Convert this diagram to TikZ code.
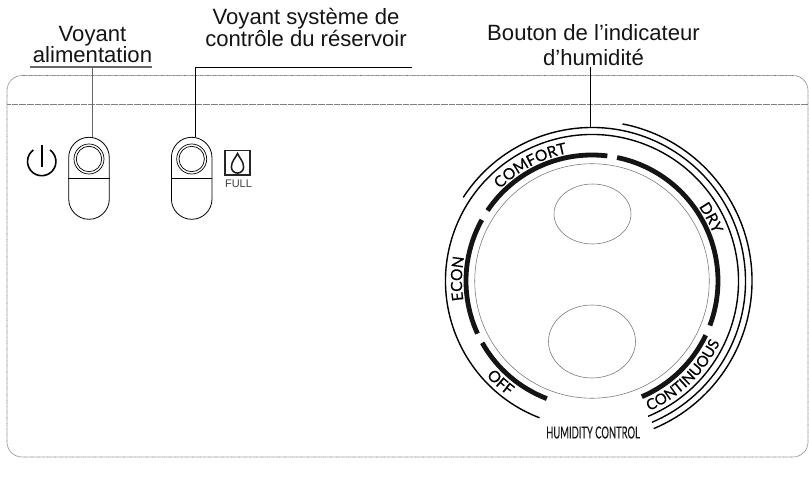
\documentclass[tikz,border=0pt]{standalone}
\usepackage{fontspec}
\setmainfont{Liberation Sans}
\newfontfamily\dialfont[FakeBold=0.35]{Lato}
\usetikzlibrary{decorations.text,shapes.geometric}
\newcommand{\dl}{\dialfont\fontsize{15.5}{15.5}\selectfont}
\newcommand{\dlc}{\dialfont\fontsize{15}{15}\selectfont}
\tikzset{
  x=1pt,y=1pt,
  callout/.style={font=\fontsize{22.1}{21.2}\selectfont,align=center,inner sep=0pt,text=black!92},
  panelline/.style={draw=black!50,line width=.65pt,dash pattern=on .7pt off .45pt},
  bandarc/.style={line width=4.8pt,black!92},
  ringarc/.style={line width=1.4pt,black},
  thingray/.style={draw=black!55,line width=.55pt},
  pillbtn/.style={draw,line width=.8pt,minimum width=40.6pt,minimum height=82pt,rounded corners=20.3pt,inner sep=0pt},
  lampouter/.style={circle,draw,line width=.7pt,minimum size=30pt,inner sep=0pt},
  lampinner/.style={circle,draw,line width=.7pt,minimum size=25.4pt,inner sep=0pt},
  arctext/.style={decorate,decoration={text along path,text align=center,text={#1}}},
}
\begin{document}
\begin{tikzpicture}
\useasboundingbox (0,0) rectangle (809,487);
% panel
\draw[panelline,rounded corners=15pt] (7,411.5) rectangle (808,30);
\coordinate (pl) at (7,383);
\coordinate (pr) at (808,383);
\draw[panelline] (pl) -- (pr);
% callouts
\node[callout] (lblA) at (92.5,442.5) {Voyant\\alimentation};
\node[callout] (lblB) at (306,459.5) {Voyant système de\\contrôle du réservoir};
\node[callout,font=\fontsize{22.1}{25}\selectfont] (lblC) at (593.5,441.7) {Bouton de l’indicateur\\d’humidité};
% buttons
\node[pillbtn] (btnA) at (89,308.7) {};
\node[pillbtn] (btnB) at (191.7,308.7) {};
\foreach \b/\c in {btnA/89,btnB/191.7}{
  \node[lampouter] (\b o) at (\c,328) {};
  \node[lampinner] (\b i) at (\c,328) {};
  \draw[line width=.6pt] (\b.west) -- (\b.east);
}
% leaders
\coordinate (ulL) at (30,420.4);
\coordinate (ulR) at (152,420.4);
\coordinate (ulM) at (92.5,420.4);
\draw[line width=2pt,black!60] (ulL) -- (ulR);
\draw[line width=1.4pt,black!60] (ulM) -- (btnA.north -| ulM);
\coordinate (lbR) at (411.7,419.5);
\coordinate (lbL) at (195.4,419.5);
\draw[line width=.8pt] (lbR) -- (lbL) -- (btnB.north -| lbL);
% power icon
\coordinate (pw) at (41.7,325.5);
\draw[line width=1.6pt] (pw) ++(54:14.2) arc (54:-234:14.2);
\coordinate (pwT) at (41.7,342);
\coordinate (pwB) at (41.7,320.3);
\draw[line width=1.6pt] (pwT) -- (pwB);
% full icon
\node[draw=black!85,line width=1.8pt,minimum width=25pt,minimum height=24.5pt,inner sep=0pt] (fullbox) at (237.4,324.2) {};
\draw[line width=1.5pt,black!90] (237.5,333.5) .. controls (235.5,329) and (231.4,325.5) .. (231.4,320) arc (180:360:6.1) .. controls (243.6,325.5) and (239.5,329) .. (237.5,333.5) -- cycle;
\node[font=\fontsize{11}{11}\selectfont,text=black!75,inner sep=0pt,anchor=base] (fulltxt) at (238.5,299) {FULL};
% dial
\coordinate (c) at (592,206);
\node[circle,thingray,minimum size=234.5pt,inner sep=0pt] (dial) at (c) {};
\node[ellipse,thingray,minimum width=77pt,minimum height=60pt,inner sep=0pt] (ovalT) at (592.5,273) {};
\node[ellipse,thingray,minimum width=87pt,minimum height=73pt,inner sep=0pt] (ovalB) at (592,145.5) {};
% band arcs
\draw[bandarc] (c) ++(83:126) arc (83:146:126);
\draw[bandarc] (c) ++(78.5:126) arc (78.5:-20.7:126);
\draw[bandarc] (c) ++(-25.5:126) arc (-25.5:-66.7:126);
\draw[bandarc] (c) ++(209.4:126) arc (209.4:249:126);
\draw[bandarc] (c) ++(151:126) arc (151:204.7:126);
% ring arcs
\draw[ringarc] (c) ++(147:153.5) arc (147:-67:153.5);
\draw[ringarc] (c) ++(249:146.5) arc (249:-67.5:146.5);
\draw[ringarc] (c) ++(79:160) arc (79:-67.3:160);
% leader to dial
\coordinate (dtop) at (590,420);
\coordinate (dbot) at (590,359.5);
\draw[line width=.8pt] (dtop) -- (dbot);
% arc labels
\path[arctext={|\dl|COMFORT}] (c) ++(158:130) arc (158:78:130);
\path[arctext={|\dl|ECON}] (c) ++(209:130) arc (209:149:130);
\path[arctext={|\dl|DRY}] (c) ++(58:130) arc (58:-2:130);
\path[arctext={|\dl|OFF}] (c) ++(198:142) arc (198:258:142);
\path[arctext={|\dlc|CONTINUOUS}] (c) ++(-96:142) arc (-96:4:142);
\node[font=\dialfont\fontsize{16.5}{16.5}\selectfont,xscale=.57,inner sep=0pt,text=black!90] (hc) at (593,54.5) {HUMIDITY CONTROL};
\end{tikzpicture}
\end{document}
